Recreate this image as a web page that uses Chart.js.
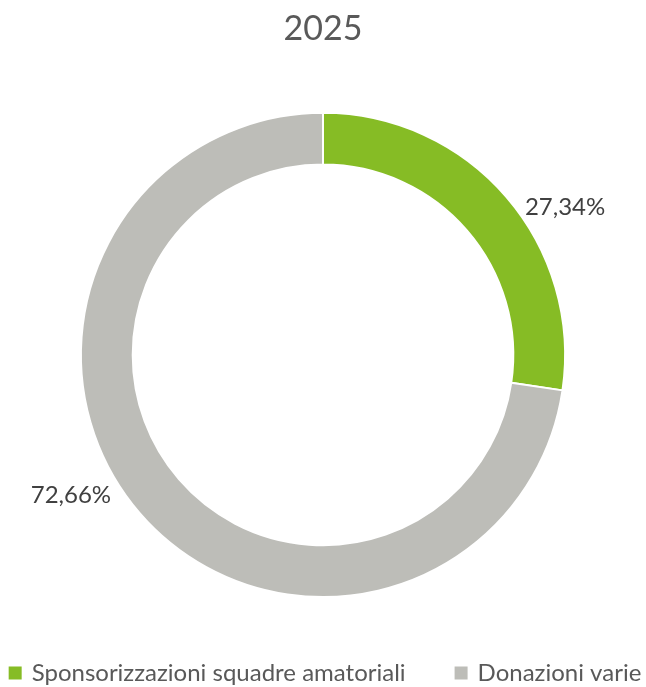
<!DOCTYPE html>
<html>
<head>
<meta charset="utf-8">
<script src="https://cdn.jsdelivr.net/npm/chart.js@4/dist/chart.umd.min.js"></script>
<style>
  html, body { margin: 0; padding: 0; background: #fff; }
  #wrap { width: 646px; height: 687px; }
</style>
</head>
<body>
<div id="wrap"><canvas id="donut"></canvas></div>
<script>
const title = '2025';
const categories = ['Sponsorizzazioni squadre amatoriali', 'Donazioni varie'];
const shares = [27.34, 72.66];
const colors = ['#86bc25', '#bdbdb8'];

const fontFamily = 'Lato, "Open Sans", sans-serif';

// percentage labels sitting just outside the ring, on the side of each slice
const outsideLabels = {
    id: 'outsideLabels',
    afterDatasetsDraw(chart) {
        const ctx = chart.ctx;
        const meta = chart.getDatasetMeta(0);
        ctx.save();
        ctx.font = '24px ' + fontFamily;
        ctx.fillStyle = '#404040';
        ctx.textBaseline = 'middle';
        meta.data.forEach((arc, i) => {
            const mid = (arc.startAngle + arc.endAngle) / 2;
            const r = arc.outerRadius + 14;
            const x = arc.x + Math.cos(mid) * r;
            const y = arc.y + Math.sin(mid) * r;
            const right = Math.cos(mid) >= 0;
            ctx.textAlign = right ? 'left' : 'right';
            const txt = shares[i].toFixed(2).replace('.', ',') + '%';
            ctx.fillText(txt, x + (right ? 8 : -18), y + (right ? 20 : -27));
        });
        ctx.restore();
    }
};

// one-row legend along the bottom with wide spacing between entries
const bottomLegend = {
    id: 'bottomLegend',
    afterDraw(chart) {
        const ctx = chart.ctx;
        const box = 13, gap = 10, spacing = 49;
        const y = chart.height - 14;
        ctx.save();
        ctx.font = '24px ' + fontFamily;
        const widths = categories.map(c => ctx.measureText(c).width);
        const total = widths.reduce((s, w) => s + box + gap + w, 0) + spacing * (categories.length - 1);
        let x = (chart.width - total) / 2 + 2;
        ctx.textBaseline = 'middle';
        ctx.textAlign = 'left';
        categories.forEach((c, i) => {
            ctx.fillStyle = colors[i];
            ctx.fillRect(x, y - box / 2, box, box);
            x += box + gap;
            ctx.fillStyle = '#595959';
            ctx.fillText(c, x, y);
            x += widths[i] + spacing;
        });
        ctx.restore();
    }
};

new Chart(document.getElementById('donut'), {
    type: 'doughnut',
    data: {
        labels: categories,
        datasets: [{
            data: shares,
            backgroundColor: colors,
            borderColor: '#ffffff',
            borderWidth: 2
        }]
    },
    options: {
        responsive: true,
        maintainAspectRatio: false,
        animation: false,
        cutout: '78.6%',
        layout: { padding: { top: 0, bottom: 89 } },
        plugins: {
            title: {
                display: true,
                text: title,
                color: '#595959',
                font: { family: fontFamily, size: 34, weight: 'normal' },
                padding: { top: 9, bottom: 62 }
            },
            legend: { display: false },
            tooltip: { enabled: false }
        }
    },
    plugins: [outsideLabels, bottomLegend]
});
</script>
</body>
</html>
